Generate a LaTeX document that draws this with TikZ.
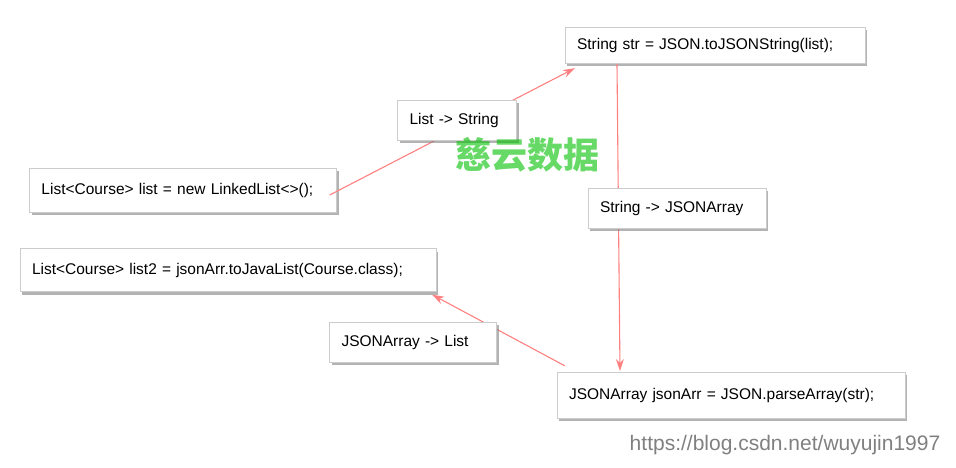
\documentclass[tikz,border=0pt]{standalone}
\usepackage{fontspec}
\setmainfont{Liberation Sans}
\newfontfamily\cjk{Noto Sans CJK SC}
\usetikzlibrary{arrows.meta, positioning, shadows}

\begin{document}
\begin{tikzpicture}[x=1pt, y=-1pt, font=\fontsize{15.5}{17}\selectfont]
  % Define styles for the boxes and arrows
  \tikzset{code/.style={draw=gray!40, fill=white, inner xsep=12pt, inner ysep=0pt, minimum height=40pt,
             align=left, drop shadow={shadow xshift=2pt, shadow yshift=-3pt, opacity=0.6}},
           conv/.style={draw=red!50, line width=1.1pt, -{Stealth[length=12pt, width=8pt]}}}
  \useasboundingbox (0,0) rectangle (956,468);

  % Code boxes
  \node[code, text width=276pt, minimum height=36pt] (str) at (715,45) {String str = JSON.toJSONString(list);};
  \node[code, text width=283pt, minimum height=44pt] (list) at (183,190) {List<Course> list = new LinkedList<>();};
  \node[code, text width=392pt, minimum height=43pt] (list2) at (228,270) {List<Course> list2 = jsonArr.toJavaList(Course.class);};
  \node[code, text width=324pt, minimum height=46pt] (arr) at (731,395) {JSONArray jsonArr = JSON.parseArray(str);};

  % Connectors
  \coordinate (s1) at (617,64);
  \coordinate (s2) at (620,371);
  \draw[conv] ([xshift=-7pt, yshift=-5pt]list.east) -- ([xshift=10pt, yshift=-5pt]str.south west);
  \draw[conv] (s1) -- (s2);
  \draw[conv] ([xshift=8pt, yshift=6pt]arr.north west) -- ([xshift=-4pt, yshift=-3pt]list2.south east);

  % Conversion labels
  \node[code, text width=95pt] (l2s) at (457,120) {List -> String};
  \node[code, text width=154pt] (s2a) at (677,208) {String -> JSONArray};
  \node[code, text width=143pt] (a2l) at (413,342) {JSONArray -> List};

  % Watermarks
  \node[text=green!75!black, opacity=0.6, font=\cjk\bfseries\fontsize{36}{38}\selectfont] (wm) at (527,155) {慈云数据};
  \node[text=gray, font=\fontsize{21}{23}\selectfont] (url) at (785,445) {https://blog.csdn.net/wuyujin1997};
\end{tikzpicture}
\end{document}
